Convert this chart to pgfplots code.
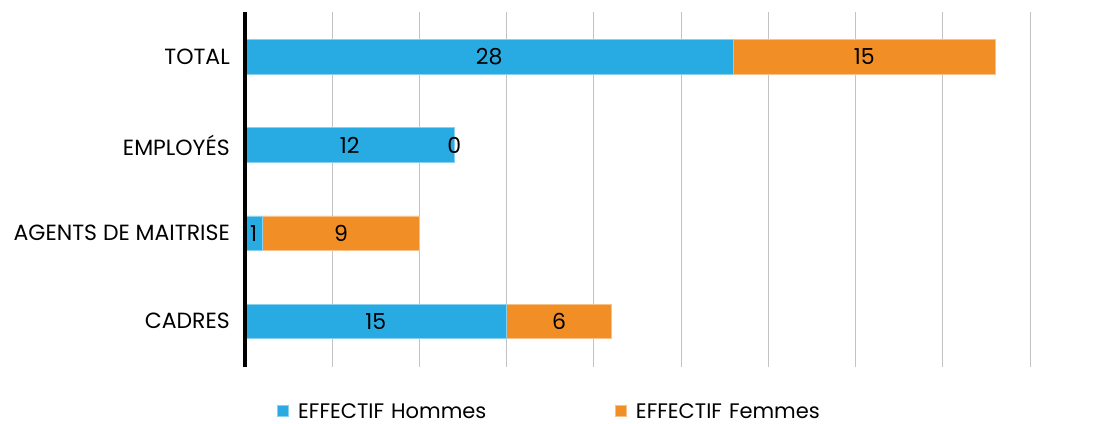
\documentclass[border=0pt]{standalone}
\usepackage{pgfplots}
\pgfplotsset{compat=1.18}
\usepackage{pgfplotstable}
\usepackage{fontspec}
\setmainfont{Poppins}

\definecolor{hom}{RGB}{40,170,226}
\definecolor{fem}{RGB}{241,142,38}
\definecolor{gridc}{RGB}{195,195,195}

% y: 0 = CADRES ... 3 = TOTAL
\pgfplotstableread{
y hommes femmes
0 15 6
1 1 9
2 12 0
3 28 15
}\effectifs

\pgfplotsset{
    frame/.style={
        scale only axis,
        width=785pt, height=355pt,
        xmin=0, xmax=45,
        ymin=-0.52, ymax=3.51,
    },
}

\begin{document}
\begin{tikzpicture}
\begin{axis}[
    frame,
    name=ax,
    xbar stacked,
    bar width=0.39,
    xtick={5,10,...,45},
    xticklabels={},
    xmajorgrids,
    major x grid style={gridc, line width=0.9pt},
    ytick={0,1,2,3},
    yticklabels={CADRES, AGENTS DE MAITRISE, EMPLOYÉS, TOTAL},
    major tick length=0pt,
    axis lines*=left,
    x axis line style={draw=none},
    yticklabel style={font=\fontsize{22}{26}\selectfont, inner sep=0pt, xshift=-15pt},
    legend columns=2,
    legend style={draw=none, fill=none, inner sep=0pt, at={(axis description cs:0.041,-0.125)}, anchor=west,
        font=\fontsize{21}{25}\selectfont,
        nodes={inner sep=0pt},
        /tikz/every odd column/.append style={column sep=9pt},
        /tikz/every even column/.append style={text width=317pt}},
    legend image code/.code={\fill[#1] (0pt,-5.5pt) rectangle (11pt,5.5pt);},
]
\addplot[fill=hom, draw=hom!55!white, line width=0.8pt]
    table[x=hommes, y=y] {\effectifs};
\addlegendentry{EFFECTIF Hommes}
\addplot[fill=fem, draw=fem!55!white, line width=0.8pt]
    table[x=femmes, y=y] {\effectifs};
\addlegendentry{EFFECTIF Femmes}
\end{axis}

% value labels, centred in each segment
\begin{axis}[
    frame,
    at={(ax.south west)}, anchor=south west,
    hide axis,
    /pgf/number format/assume math mode=true,
    point meta=explicit,
    nodes near coords,
    every node near coord/.style={font=\fontsize{22}{26}\selectfont, anchor=center, text=black, inner sep=0pt},
]
\addplot[draw=none, mark=none] table[x expr=\thisrow{hommes}/2, y=y, meta=hommes] {\effectifs};
\addplot[draw=none, mark=none] table[x expr=\thisrow{hommes}+\thisrow{femmes}/2, y=y, meta=femmes] {\effectifs};
\end{axis}
% thick left axis line
\draw[black, line width=3.5pt] (ax.south west) -- (ax.north west);
\pgfresetboundingbox
\path[use as bounding box] ([xshift=-245pt,yshift=-56pt]ax.south west) rectangle ([xshift=80pt,yshift=12pt]ax.north east);
\end{tikzpicture}
\end{document}
